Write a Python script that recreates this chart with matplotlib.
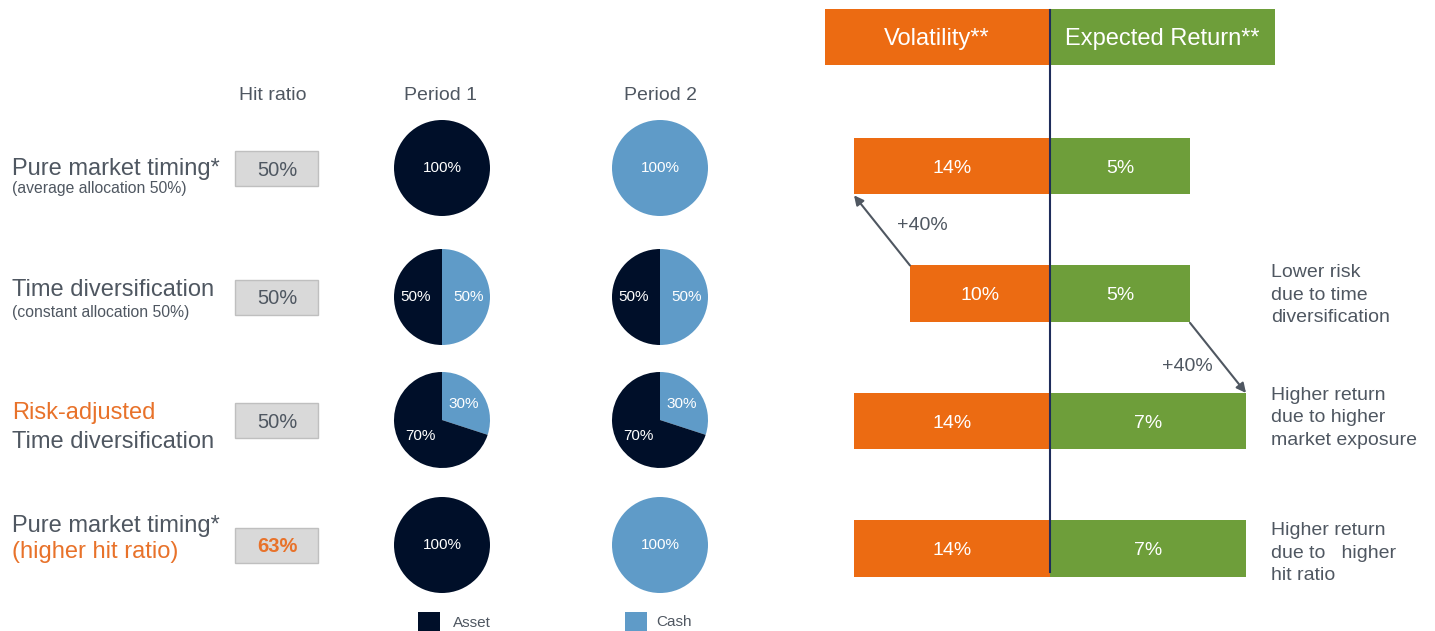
import matplotlib.pyplot as plt
from matplotlib.patches import Rectangle

plt.rcParams['font.family'] = ['Liberation Sans', 'DejaVu Sans']

# data
strategies = ["Pure market timing*", "Time diversification",
              "Time diversification", "Pure market timing*"]
hit_ratio = [50, 50, 50, 63]
period1_asset = [100, 50, 70, 100]
period2_asset = [0, 50, 70, 0]
volatility = [14, 10, 14, 14]
exp_return = [5, 5, 7, 7]
notes = ["", "Lower risk\ndue to time\ndiversification",
         "Higher return\ndue to higher\nmarket exposure",
         "Higher return\ndue to   higher\nhit ratio"]

ORANGE = "#ec6b12"
GREEN = "#6e9e3a"
NAVY = "#000f29"
LIGHT = "#5f9bc8"
GREY_TXT = "#4f5761"
ORANGE_TXT = "#e8722a"

W, H = 1435, 631
fig = plt.figure(figsize=(W / 100, H / 100), dpi=100)

# overlay axes in pixel coordinates
ax = fig.add_axes([0, 0, 1, 1])
row_y = [168, 297, 420, 545]
col_x = {"p1": 442, "p2": 660}
R = 48

# column headers
ax.text(273, 95, "Hit ratio", ha="center", va="center", fontsize=14, color=GREY_TXT)
ax.text(440, 95, "Period 1", ha="center", va="center", fontsize=14, color=GREY_TXT)
ax.text(660, 95, "Period 2", ha="center", va="center", fontsize=14, color=GREY_TXT)

# row labels
big, small = 17, 11.3
ax.text(12, 169, strategies[0], ha="left", va="center", fontsize=big, color=GREY_TXT)
ax.text(12, 188, "(average allocation 50%)", ha="left", va="center", fontsize=small, color=GREY_TXT)
ax.text(12, 290, strategies[1], ha="left", va="center", fontsize=big, color=GREY_TXT)
ax.text(12, 313, "(constant allocation 50%)", ha="left", va="center", fontsize=small, color=GREY_TXT)
ax.text(12, 413, "Risk-adjusted", ha="left", va="center", fontsize=big, color=ORANGE_TXT)
ax.text(12, 442, strategies[2], ha="left", va="center", fontsize=big, color=GREY_TXT)
ax.text(12, 526, strategies[3], ha="left", va="center", fontsize=big, color=GREY_TXT)
ax.text(12, 552, "(higher hit ratio)", ha="left", va="center", fontsize=big, color=ORANGE_TXT)

# hit ratio boxes
for y, hr in zip(row_y, hit_ratio):
    ax.add_patch(Rectangle((235, y - 17), 83, 35, facecolor="#d9d9d9",
                           edgecolor="#bfbfbf", lw=1))
    special = hr != 50
    ax.text(277, y + 2, f"{hr}%", ha="center", va="center", fontsize=14.5,
            color=ORANGE_TXT if special else GREY_TXT,
            fontweight="bold" if special else "normal")


# pies: order [cash, asset], cash starts at 12 o'clock and goes clockwise
def draw_pie(cx, cy, asset):
    vals = [100 - asset, asset]
    full = max(vals) == 100
    wedges, _, autotexts = ax.pie(
        vals, center=(cx, cy), radius=R, colors=[LIGHT, NAVY],
        startangle=-90, counterclock=True,
        autopct=lambda p: f"{p:.0f}%" if p > 0 else "",
        pctdistance=0 if full else 0.55,
        wedgeprops=dict(linewidth=0), frame=True)
    for t in autotexts:
        t.set_color("white")
        t.set_fontsize(11)


for y, a1, a2 in zip(row_y, period1_asset, period2_asset):
    draw_pie(col_x["p1"], y, a1)
    draw_pie(col_x["p2"], y, a2)

# legend
ax.add_patch(Rectangle((418, 612), 22, 19, facecolor=NAVY, lw=0))
ax.text(453, 623, "Asset", ha="left", va="center", fontsize=11, color=GREY_TXT)
ax.add_patch(Rectangle((625, 612), 22, 19, facecolor=LIGHT, lw=0))
ax.text(656, 622, "Cash", ha="left", va="center", fontsize=11, color=GREY_TXT)

# header boxes
ax.add_patch(Rectangle((825, 9), 225, 56, facecolor=ORANGE, lw=0))
ax.add_patch(Rectangle((1050, 9), 225, 56, facecolor=GREEN, lw=0))
ax.text(937, 39, "Volatility**", ha="center", va="center", fontsize=17, color="white")
ax.text(1162, 39, "Expected Return**", ha="center", va="center", fontsize=17, color="white")

# notes
for y, note in zip(row_y, notes):
    if note:
        ax.text(1271, y - 2 if y != 545 else 553, note, ha="left", va="center",
                fontsize=14, color=GREY_TXT, linespacing=1.45)

ax.set_xlim(0, W)
ax.set_ylim(H, 0)
ax.set_aspect("auto")
ax.axis("off")

# bar axes: rows spaced ~127 px, first row centred at y=166
pitch = 127.5
top_px = 166 - 0.6 * pitch
h_px = 4.2 * pitch
ax_v = fig.add_axes([825 / W, 1 - (top_px + h_px) / H, 225 / W, h_px / H])
ax_r = fig.add_axes([1050 / W, 1 - (top_px + h_px) / H, 225 / W, h_px / H])
rows = list(range(len(volatility)))
bv = ax_v.barh(rows, volatility, height=0.44, color=ORANGE)
br = ax_r.barh(rows, exp_return, height=0.44, color=GREEN)
lv = ax_v.bar_label(bv, labels=[f"{v}%" for v in volatility], label_type="center",
                    color="white", fontsize=14)
lr = ax_r.bar_label(br, labels=[f"{v}%" for v in exp_return], label_type="center",
                    color="white", fontsize=14)
for t in list(lv) + list(lr):
    t.set_va("center_baseline")
ax_v.set_xlim(225 / 14, 0)
ax_r.set_xlim(0, 225 / 28)
for a in (ax_v, ax_r):
    a.set_ylim(3.6, -0.6)
    a.axis("off")
    a.patch.set_alpha(0)

# +40% arrows
ax_v.annotate("", xy=(14, 0.23), xytext=(10, 0.78),
              arrowprops=dict(arrowstyle="-|>", color="#4f5761", lw=1.5,
                              mutation_scale=14, shrinkA=0, shrinkB=0))
ax_v.text(9.1, 0.47, "+40%", ha="center", va="center", fontsize=14, color=GREY_TXT)
ax_r.annotate("", xy=(7, 1.78), xytext=(5, 1.23),
              arrowprops=dict(arrowstyle="-|>", color="#4f5761", lw=1.5,
                              mutation_scale=14, shrinkA=0, shrinkB=0))
ax_r.text(4.9, 1.57, "+40%", ha="center", va="center", fontsize=14, color=GREY_TXT)

# centre line
ax_line = fig.add_axes([0, 0, 1, 1])
ax_line.plot([1050, 1050], [10, 572], color="#1f2d5c", lw=1.5)
ax_line.set_xlim(0, W)
ax_line.set_ylim(H, 0)
ax_line.axis("off")
ax_line.patch.set_alpha(0)

fig.savefig("out.png", dpi=100, facecolor="white")
